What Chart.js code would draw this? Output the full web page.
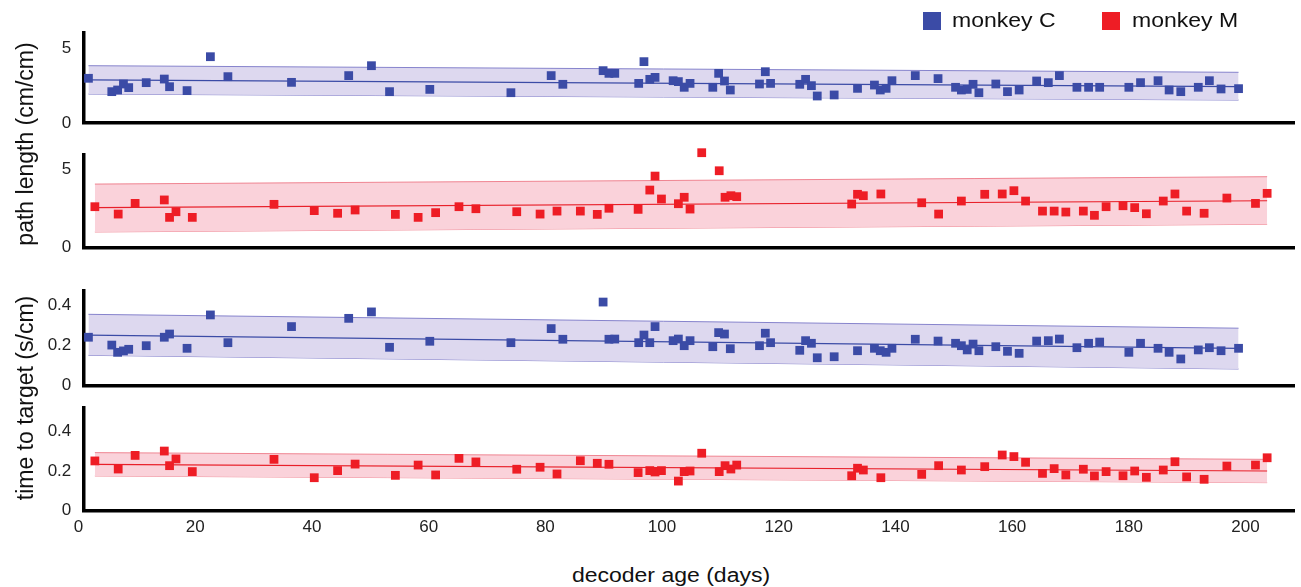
<!DOCTYPE html>
<html>
<head>
<meta charset="utf-8">
<title>decoder age</title>
<script src="https://cdn.jsdelivr.net/npm/chart.js@4.4.1/dist/chart.umd.min.js"></script>
<style>
  html, body { margin: 0; padding: 0; background: #fff; }
  #wrap { position: relative; width: 1301px; height: 587px; overflow: hidden;
          font-family: "Liberation Sans", Arial, sans-serif; color: #111; }
  #wrap canvas { position: absolute; left: 0; }
  .ytitle { position: absolute; font-size: 23px; line-height: 1; white-space: nowrap;
            transform: translate(-50%, -50%) rotate(-90deg); }
  .xtitle { position: absolute; left: 671px; top: 565px; font-size: 20px; line-height: 1;
            white-space: nowrap; transform: translateX(-50%) scaleX(1.15); }
  .sw { position: absolute; top: 12px; width: 18px; height: 18px; }
  .lt { position: absolute; top: 10px; font-size: 20px; line-height: 1; white-space: nowrap;
        transform-origin: left center; transform: scaleX(1.15); }
</style>
</head>
<body>
<div id="wrap">
  <div class="sw" style="left:923px;background:#3b4ba6"></div>
  <div class="lt" style="left:952px">monkey C</div>
  <div class="sw" style="left:1102px;background:#ee1d25"></div>
  <div class="lt" style="left:1132px">monkey M</div>
  <div class="ytitle" style="left:25px;top:144px">path length (cm/cm)</div>
  <div class="ytitle" style="left:25px;top:398px">time to target (s/cm)</div>
  <div class="xtitle">decoder age (days)</div>
</div>
<script>
// decoder age of each session (days)
const daysC = [1.7, 5.7, 6.7, 7.7, 8.6, 11.6, 14.7, 15.6, 18.6, 22.6, 25.6, 36.5, 46.3, 50.2, 53.3,
  60.2, 74.1, 81.0, 83.0, 89.9, 90.9, 91.9, 96.0, 96.9, 97.9, 98.8, 101.9, 102.8, 103.8, 104.8,
  108.7, 109.7, 110.7, 111.7, 116.7, 117.7, 118.6, 123.6, 124.6, 125.6, 126.6, 129.5, 133.5, 136.4,
  137.4, 138.4, 139.4, 143.4, 147.3, 150.3, 151.3, 152.3, 153.3, 154.3, 157.2, 159.2, 161.2, 164.2,
  166.2, 168.1, 171.1, 173.1, 175.0, 180.0, 182.0, 185.0, 186.9, 188.9, 191.9, 193.8, 195.8, 198.8];
const daysM = [2.8, 6.8, 9.7, 14.7, 15.6, 16.7, 19.5, 33.5, 40.4, 44.4, 47.4, 54.3, 58.2, 61.2, 65.2,
  68.1, 75.1, 79.1, 82.0, 86.0, 88.9, 90.9, 95.9, 97.9, 98.8, 99.9, 102.8, 103.8, 104.8, 106.8,
  109.8, 110.8, 111.8, 112.8, 132.5, 133.5, 134.5, 137.5, 144.5, 147.4, 151.3, 155.3, 158.3, 160.3,
  162.3, 165.2, 167.2, 169.2, 172.2, 174.1, 176.1, 179.0, 181.0, 183.0, 185.9, 187.9, 189.9, 192.9,
  196.8, 201.7, 203.7];

// path length (cm/cm)
const pathC = [2.98, 2.09, 2.2, 2.6, 2.36, 2.69, 2.93, 2.42, 2.16, 4.42, 3.09, 2.71, 3.16, 3.82, 2.09,
  2.24, 2.02, 3.16, 2.58, 3.49, 3.31, 3.31, 2.64, 4.09, 2.91, 3.04, 2.82, 2.76, 2.38, 2.64,
  2.38, 3.31, 2.8, 2.2, 2.6, 3.42, 2.64, 2.58, 2.91, 2.49, 1.8, 1.87, 2.31, 2.53, 2.2, 2.31, 2.82,
  3.16, 2.96, 2.38, 2.2, 2.24, 2.58, 2.02, 2.6, 2.09, 2.2, 2.8, 2.69, 3.16, 2.38, 2.38, 2.38, 2.38,
  2.69, 2.82, 2.2, 2.09, 2.38, 2.82, 2.27, 2.29];
const pathM = [2.60, 2.13, 2.81, 3.03, 1.92, 2.28, 1.92, 2.75, 2.35, 2.18, 2.39, 2.11, 1.92, 2.22,
  2.60, 2.47, 2.28, 2.13, 2.32, 2.32, 2.11, 2.50, 2.43, 3.66, 4.55, 3.09, 2.79, 3.20, 2.45, 6.04,
  4.89, 3.20, 3.30, 3.24, 2.77, 3.39, 3.30, 3.41, 2.85, 2.13, 2.96, 3.39, 3.41, 3.62, 2.96, 2.32,
  2.32, 2.26, 2.32, 2.05, 2.60, 2.66, 2.54, 2.15, 2.96, 3.41, 2.32, 2.18, 3.15, 2.81, 3.45];

// time to target (s/cm)
const timeC = [0.240, 0.201, 0.165, 0.172, 0.180, 0.198, 0.240, 0.256, 0.185, 0.351, 0.213, 0.293,
  0.334, 0.366, 0.190, 0.220, 0.213, 0.283, 0.230, 0.415, 0.230, 0.231, 0.213, 0.251, 0.213, 0.293,
  0.223, 0.231, 0.198, 0.223, 0.193, 0.263, 0.256, 0.183, 0.198, 0.260, 0.213, 0.175, 0.223, 0.210,
  0.138, 0.143, 0.173, 0.185, 0.173, 0.165, 0.185, 0.230, 0.221, 0.210, 0.198, 0.177, 0.206, 0.173,
  0.193, 0.170, 0.160, 0.221, 0.223, 0.231, 0.188, 0.210, 0.216, 0.165, 0.210, 0.185, 0.165, 0.132,
  0.177, 0.188, 0.173, 0.185];
const timeM = [0.251, 0.210, 0.279, 0.301, 0.227, 0.261, 0.197, 0.259, 0.166, 0.202, 0.235, 0.178,
  0.230, 0.180, 0.264, 0.246, 0.209, 0.219, 0.185, 0.252, 0.239, 0.234, 0.192, 0.202, 0.195, 0.202,
  0.149, 0.197, 0.200, 0.290, 0.197, 0.227, 0.210, 0.230, 0.176, 0.214, 0.205, 0.166, 0.183, 0.227,
  0.205, 0.222, 0.281, 0.273, 0.244, 0.188, 0.212, 0.180, 0.209, 0.175, 0.197, 0.176, 0.200, 0.168,
  0.205, 0.247, 0.170, 0.158, 0.225, 0.230, 0.267];

// fitted trend and band edges, value at first and last session
const pathCFit = [2.87, 2.42], pathCUpper = [3.82, 3.38], pathCLower = [1.93, 1.53];
const pathMFit = [2.54, 2.98], pathMUpper = [4.04, 4.51], pathMLower = [0.99, 1.48];
const timeCFit = [0.251, 0.185], timeCUpper = [0.354, 0.285], timeCLower = [0.150, 0.082];
const timeMFit = [0.234, 0.200], timeMUpper = [0.293, 0.259], timeMLower = [0.175, 0.141];

const xTicks = [0, 20, 40, 60, 80, 100, 120, 140, 160, 180, 200];
const pathTicks = [0, 5];
const timeTicks = [0, 0.2, 0.4];

const blue = { mark: '#3b4ba6', fit: '#3b4ba6', edge: '#8683cc', band: '#ddd8ef' };
const red = { mark: '#ee1d25', fit: '#e8202a', edge: '#ef8491', band: '#fad2da' };

const W = 1301;
const AREA_LEFT = 83.3;             // y axis line
const ZERO_PX = 78.5, PX_PER_DAY = 5.865;
const xMin = (AREA_LEFT - ZERO_PX) / PX_PER_DAY;
const xMax = xMin + (W - AREA_LEFT) / PX_PER_DAY;
const tickFont = { family: '"Liberation Sans", Arial, sans-serif', size: 17 };
const wrap = document.getElementById('wrap');

function panel(p) {
  const cv = document.createElement('canvas');
  cv.width = W;
  cv.height = p.h;
  cv.style.top = p.top + 'px';
  wrap.insertBefore(cv, wrap.firstChild);

  const first = p.days[0], last = p.days[p.days.length - 1];
  const seg = v => [{ x: first, y: v[0] }, { x: last, y: v[1] }];

  new Chart(cv, {
    type: 'scatter',
    data: {
      datasets: [
        {
          data: p.days.map((d, i) => ({ x: d, y: p.values[i] })),
          pointStyle: 'rect', pointRadius: 6.2, backgroundColor: p.col.mark,
          borderWidth: 0, clip: false
        },
        { type: 'line', data: seg(p.fit), borderColor: p.col.fit, borderWidth: 1.2, pointRadius: 0, fill: false },
        { type: 'line', data: seg(p.upper), borderColor: p.col.edge, borderWidth: 1, pointRadius: 0,
          fill: '+1', backgroundColor: p.col.band },
        { type: 'line', data: seg(p.lower), borderColor: p.col.edge, borderWidth: 1, pointRadius: 0, fill: false }
      ]
    },
    options: {
      responsive: false,
      animation: false,
      events: [],
      layout: { padding: { top: p.padTop, bottom: p.padBottom, left: 0, right: 0 } },
      plugins: { legend: { display: false }, tooltip: { enabled: false } },
      scales: {
        x: {
          type: 'linear', min: xMin, max: xMax, display: true,
          grid: { display: false, drawTicks: false },
          border: { display: true, color: '#000', width: 3.5 },
          ticks: { display: p.showX, font: tickFont, color: '#222', padding: 7, autoSkip: false, maxRotation: 0 },
          afterBuildTicks: s => { s.ticks = xTicks.map(v => ({ value: v })); },
          afterFit: s => { s.height = p.showX ? 30 : 0; s.paddingLeft = 0; s.paddingRight = 0; }
        },
        y: {
          min: 0, max: p.yMax,
          grid: { display: false, drawTicks: false },
          border: { display: true, color: '#000', width: 3.5 },
          ticks: { font: tickFont, color: '#222', padding: 12, callback: v => String(v) },
          afterBuildTicks: s => { s.ticks = p.yTicks.map(v => ({ value: v })); },
          afterFit: s => { s.width = AREA_LEFT; s.paddingTop = 0; s.paddingBottom = 0; }
        }
      }
    }
  });
}

// chart area of each strip: top = top + padTop, bottom = top + h - padBottom (- x labels)
panel({ top: 0, h: 140, padTop: 33, padBottom: 17, yMax: 6, yTicks: pathTicks,
  days: daysC, values: pathC, fit: pathCFit, upper: pathCUpper, lower: pathCLower, col: blue, showX: false });
panel({ top: 140, h: 122, padTop: 14.9, padBottom: 14.5, yMax: 5.9, yTicks: pathTicks,
  days: daysM, values: pathM, fit: pathMFit, upper: pathMUpper, lower: pathMLower, col: red, showX: false });
panel({ top: 262, h: 135, padTop: 29, padBottom: 11.5, yMax: 0.47, yTicks: timeTicks,
  days: daysC, values: timeC, fit: timeCFit, upper: timeCUpper, lower: timeCLower, col: blue, showX: false });
panel({ top: 397, h: 150, padTop: 10.8, padBottom: 6.5, yMax: 0.52, yTicks: timeTicks,
  days: daysM, values: timeM, fit: timeMFit, upper: timeMUpper, lower: timeMLower, col: red, showX: true });
</script>
</body>
</html>
